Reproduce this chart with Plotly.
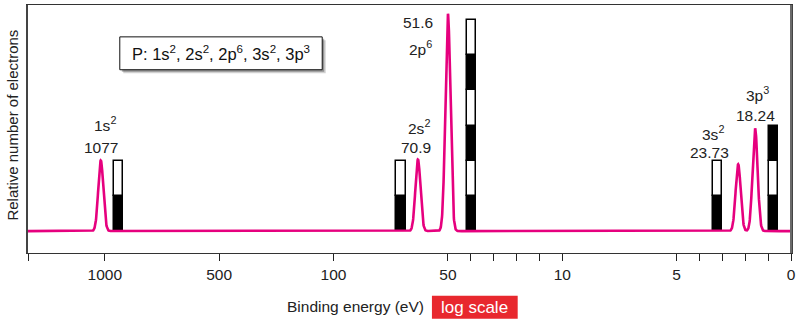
import numpy as np
import plotly.graph_objects as go

# ---- data (x in schematic axis units: 0 = "1000" tick ... 6 = "0" tick) ----
tick_labels = ["1000", "500", "100", "50", "10", "5", "0"]
tick_pos = [0, 1, 2, 3, 4, 5, 6]
minor_ticks = [-0.6715, 3.2, 3.4, 3.6, 3.8, 5.2, 5.4, 5.6, 5.8]

shells = ["1s", "2s", "2p", "3s", "3p"]
electrons = [2, 2, 6, 2, 3]
energies = ["1077", "70.9", "51.6", "23.73", "18.24"]
peak_pos = [-0.035, 2.738, 3.0, 5.538, 5.686]
peak_height = [2.01, 2.04, 6.18, 1.90, 2.92]
bar_pos = [0.118, 2.59, 3.209, 5.359, 5.847]

X_MIN, X_MAX = -0.6715, 6.0
Y_MIN, Y_MAX = -0.623, 6.43
SIGMA = 0.022

FONT = "Liberation Sans, Arial, Helvetica, sans-serif"
MAGENTA = "#e6007e"

xs = np.linspace(X_MIN, X_MAX, 4000)
ys = np.zeros_like(xs)
for p, h in zip(peak_pos, peak_height):
    ys += h * np.exp(-0.5 * ((xs - p) / SIGMA) ** 2)

fig = go.Figure()

# electron boxes
for b, n in zip(bar_pos, electrons):
    fig.add_trace(go.Bar(
        x=[b] * n, y=[1] * n, base=list(range(n)), width=0.082,
        marker=dict(color=["black" if k % 2 == 0 else "white" for k in range(n)],
                    line=dict(color="black", width=1.5)),
        showlegend=False, hoverinfo="skip"))

fig.add_trace(go.Scatter(x=xs, y=ys, mode="lines",
                         line=dict(color=MAGENTA, width=2.6),
                         showlegend=False, hoverinfo="skip"))

ann = []
def lab(x, y, t):
    ann.append(dict(x=x, y=y, xref="x", yref="y", text=t, showarrow=False,
                    xanchor="center", yanchor="middle",
                    font=dict(size=15.5, color="#222", family=FONT)))

lab(0.0, 3.06, "1s<sup>2</sup>")
lab(peak_pos[0], 2.38, energies[0])
lab(2.747, 2.95, "2s<sup>2</sup>")
lab(2.72, 2.38, energies[1])
lab(2.738, 5.92, energies[2])
lab(2.76, 5.21, "2p<sup>6</sup>")
lab(5.32, 2.80, "3s<sup>2</sup>")
lab(5.285, 2.24, energies[3])
lab(5.703, 3.91, "3p<sup>3</sup>")
lab(5.686, 3.29, energies[4])

def pann(x, y, t, size, color="#222", angle=0):
    ann.append(dict(x=x, y=y, xref="paper", yref="paper", text=t, showarrow=False,
                    xanchor="center", yanchor="middle", textangle=angle,
                    font=dict(size=size, color=color, family=FONT)))

# electron configuration box text
pann(0.2529, 0.805,
     "P: 1s<sup>2</sup>, 2s<sup>2</sup>, 2p<sup>6</sup>, 3s<sup>2</sup>, 3p<sup>3</sup>", 16.5, "#111")
# axis titles
pann(0.4288, -0.2169, "Binding energy (eV)", 15.5)
pann(0.5856, -0.2189, "log scale", 17, "white")
pann(-0.0209, 0.514, "Relative number of electrons", 15, angle=-90)

shapes = [
    # shadow
    dict(type="rect", xref="paper", yref="paper",
         x0=0.1203 + 3.5 / 765, x1=0.3856 + 3.5 / 765,
         y0=0.739 - 3.5 / 249, y1=0.8715 - 3.5 / 249,
         fillcolor="rgba(0,0,0,0.18)", line=dict(width=0)),
    dict(type="rect", xref="paper", yref="paper",
         x0=0.1203 + 2 / 765, x1=0.3856 + 2 / 765,
         y0=0.739 - 2 / 249, y1=0.8715 - 2 / 249,
         fillcolor="rgba(0,0,0,0.3)", line=dict(width=0)),
    dict(type="rect", xref="paper", yref="paper",
         x0=0.1203, x1=0.3856, y0=0.739, y1=0.8715,
         fillcolor="white", line=dict(color="#111", width=1)),
    # log scale box
    dict(type="rect", xref="paper", yref="paper",
         x0=0.5294, x1=0.6418, y0=-0.265, y1=-0.1727,
         fillcolor="#e8282e", line=dict(width=0), layer="below"),
    # right frame line
    dict(type="line", xref="paper", yref="paper", x0=1, x1=1, y0=0, y1=1,
         line=dict(color="#6a6a6a", width=2)),
]

fig.update_layout(
    width=800, height=321,
    margin=dict(l=28, r=7, t=4, b=68),
    paper_bgcolor="white", plot_bgcolor="white",
    barmode="overlay", bargap=0,
    annotations=ann, shapes=shapes,
    font=dict(family=FONT, color="#222"),
    xaxis=dict(range=[X_MIN, X_MAX], tickmode="array", tickvals=tick_pos,
               ticktext=tick_labels, ticks="outside", ticklen=7, tickwidth=1.3,
               tickcolor="#222", showline=True, linecolor="#333", linewidth=1.3,
               mirror=True, showgrid=False, zeroline=False,
               tickfont=dict(size=15.5, color="#222", family=FONT),
               minor=dict(tickmode="array", tickvals=minor_ticks, ticks="outside",
                          ticklen=7, tickwidth=1.3, tickcolor="#222", showgrid=False)),
    yaxis=dict(range=[Y_MIN, Y_MAX], showticklabels=False, ticks="",
               showline=True, linecolor="#444", linewidth=1.5, mirror=True,
               showgrid=False, zeroline=False),
)

fig.write_html("out.html")
